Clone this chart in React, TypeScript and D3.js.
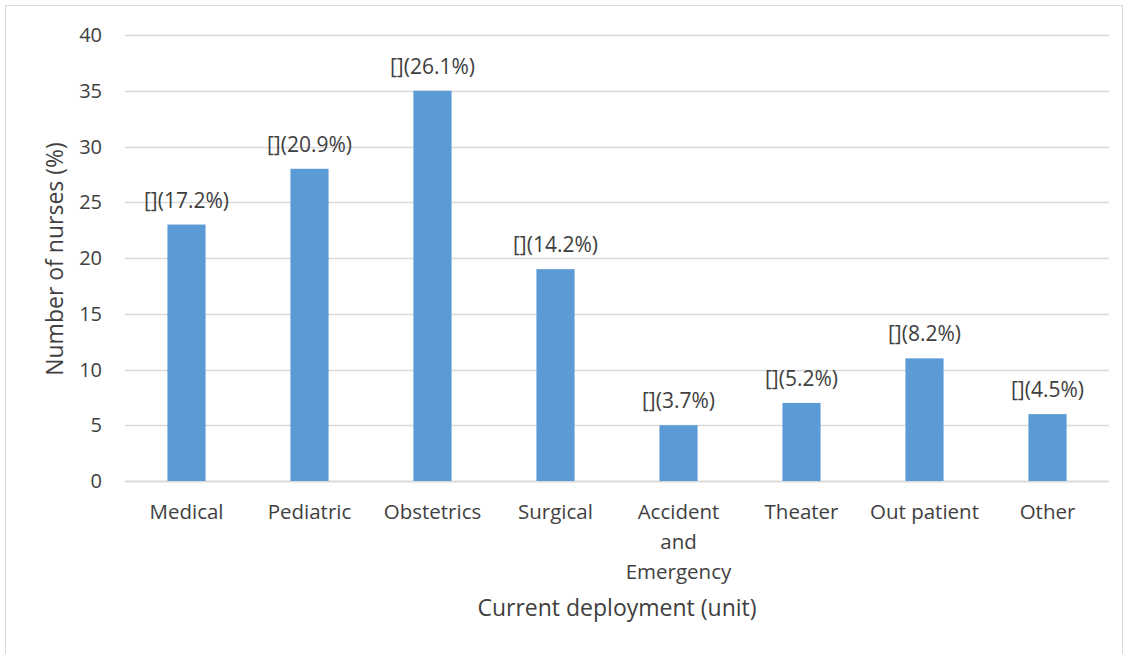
import React, { useEffect, useRef } from "react";
import * as d3 from "d3";

const units = ["Medical", "Pediatric", "Obstetrics", "Surgical", "Accident and Emergency", "Theater", "Out patient", "Other"];
const unitLines = [["Medical"], ["Pediatric"], ["Obstetrics"], ["Surgical"], ["Accident", "and", "Emergency"], ["Theater"], ["Out patient"], ["Other"]];
const values = [23, 28, 35, 19, 5, 7, 11, 6];
const shares = ["17.2%", "20.9%", "26.1%", "14.2%", "3.7%", "5.2%", "8.2%", "4.5%"];
const yTicks = [0, 5, 10, 15, 20, 25, 30, 35, 40];

export default function App() {
  const svgRef = useRef<SVGSVGElement | null>(null);

  useEffect(() => {
    document.body.style.margin = "0";
    const width = 1128;
    const height = 654;
    const margin = { top: 35, right: 19, bottom: 173, left: 125 };
    const innerWidth = width - margin.left - margin.right;
    const innerHeight = height - margin.top - margin.bottom;
    const font = "'Open Sans', sans-serif";
    const textColor = "#404040";

    const svg = d3.select(svgRef.current);
    svg.selectAll("*").remove();

    // outer chart border
    svg.append("rect")
      .attr("x", 5.5)
      .attr("y", 5.5)
      .attr("width", width - 11)
      .attr("height", height + 20)
      .attr("fill", "#fff")
      .attr("stroke", "#d9d9d9")
      .attr("stroke-width", 1);

    const g = svg.append("g").attr("transform", `translate(${margin.left},${margin.top})`);

    const x = d3.scaleBand().domain(units).range([0, innerWidth]).paddingInner(0.69).paddingOuter(0.345);
    const y = d3.scaleLinear().domain([0, 40]).range([innerHeight, 0]);

    // gridlines
    g.append("g")
      .selectAll("line")
      .data(yTicks)
      .enter()
      .append("line")
      .attr("x1", 0)
      .attr("x2", innerWidth)
      .attr("y1", d => Math.round(y(d)) + 0.5)
      .attr("y2", d => Math.round(y(d)) + 0.5)
      .attr("stroke", "#d9d9d9")
      .attr("stroke-width", d => (d === 0 ? 2 : 1.3));

    // y tick labels
    g.append("g")
      .selectAll("text")
      .data(yTicks)
      .enter()
      .append("text")
      .attr("x", -23)
      .attr("y", d => y(d))
      .attr("dy", "0.35em")
      .attr("text-anchor", "end")
      .attr("font-family", font)
      .attr("font-size", 20)
      .attr("fill", textColor)
      .text(d => d);

    // bars
    g.append("g")
      .selectAll("rect")
      .data(values)
      .enter()
      .append("rect")
      .attr("x", (d, i) => x(units[i]) as number)
      .attr("y", d => y(d))
      .attr("width", x.bandwidth())
      .attr("height", d => innerHeight - y(d))
      .attr("fill", "#5b9bd5");

    // value labels
    g.append("g")
      .selectAll("text")
      .data(values)
      .enter()
      .append("text")
      .attr("x", (d, i) => (x(units[i]) as number) + x.bandwidth() / 2)
      .attr("y", d => y(d) - 17)
      .attr("text-anchor", "middle")
      .attr("font-family", font)
      .attr("font-size", 21)
      .attr("fill", textColor)
      .text((d, i) => `[](${shares[i]})`);

    // x category labels
    const xl = g.append("g");
    unitLines.forEach((lines, i) => {
      const cx = (x(units[i]) as number) + x.bandwidth() / 2;
      lines.forEach((ln, j) => {
        xl.append("text")
          .attr("x", cx)
          .attr("y", innerHeight + 38 + j * 30)
          .attr("text-anchor", "middle")
          .attr("font-family", font)
          .attr("font-size", 20.5)
          .attr("fill", textColor)
          .text(ln);
      });
    });

    // axis titles
    svg.append("text")
      .attr("x", margin.left + innerWidth / 2)
      .attr("y", 616)
      .attr("text-anchor", "middle")
      .attr("font-family", font)
      .attr("font-size", 23)
      .attr("fill", textColor)
      .text("Current deployment (unit)");

    svg.append("text")
      .attr("transform", `translate(63,${margin.top + innerHeight / 2 + 1}) rotate(-90)`)
      .attr("text-anchor", "middle")
      .attr("font-family", font)
      .attr("font-size", 23)
      .attr("fill", textColor)
      .text("Number of nurses (%)");
  }, []);

  return <svg ref={svgRef} width={1128} height={654} style={{ display: "block" }} />;
}
